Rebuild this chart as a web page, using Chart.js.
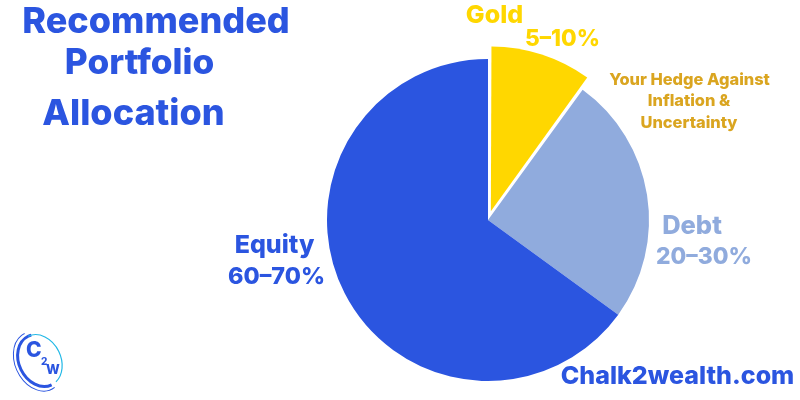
<!DOCTYPE html>
<html>
<head>
<meta charset="utf-8">
<script src="https://cdn.jsdelivr.net/npm/chart.js@4"></script>
<style>
  html, body { margin: 0; padding: 0; background: #fff; }
  #wrap { width: 800px; height: 400px; position: relative; }
</style>
</head>
<body>
<div id="wrap"><canvas id="chart" width="800" height="400"></canvas></div>
<script>
const categories = ["Gold", "Debt", "Equity"];
const allocation = [10, 25, 65];
const sliceColors = ["#FFD700", "#90ABDD", "#2B55E0"];
const sliceOffsets = [37, 0, 0];
const titleLines = ["Recommended", "Portfolio", "Allocation"];
const goldLabel = ["Gold", "5–10%"];
const debtLabel = ["Debt", "20–30%"];
const equityLabel = ["Equity", "60–70%"];
const hedgeLines = ["Your Hedge Against", "Inflation &", "Uncertainty"];
const siteName = "Chalk2wealth.com";

const BLUE = "#2B55E0";
const FONT = 'Inter, sans-serif';

function drawText(ctx, text, x, y, size, color, weight) {
  ctx.font = `${weight || 700} ${size}px ${FONT}`;
  ctx.fillStyle = color;
  ctx.fillText(text, x, y);
}

function drawLogo(ctx) {
  ctx.save();
  ctx.translate(39, 361);
  ctx.rotate(-0.45);
  ctx.strokeStyle = BLUE;
  ctx.lineWidth = 1;
  ctx.beginPath();
  ctx.ellipse(-1, 0, 23, 31, 0, Math.PI * 0.45, Math.PI * 1.5);
  ctx.stroke();
  ctx.lineWidth = 3;
  ctx.beginPath();
  ctx.ellipse(1, 0, 21, 27, 0, Math.PI * 0.5, Math.PI * 1.55);
  ctx.stroke();
  ctx.lineWidth = 1.2;
  ctx.strokeStyle = "#22B8E6";
  ctx.beginPath();
  ctx.ellipse(1, 0, 21, 27, 0, -Math.PI * 0.5, Math.PI * 0.42);
  ctx.stroke();
  ctx.restore();
  ctx.textAlign = "left";
  drawText(ctx, "C", 26, 357, 21, BLUE, 800);
  drawText(ctx, "2", 41, 365, 10, BLUE, 800);
  drawText(ctx, "W", 46, 374, 13, BLUE, 800);
}

const textPlugin = {
  id: "textPlugin",
  afterDraw(chart) {
    const ctx = chart.ctx;
    ctx.save();
    ctx.textBaseline = "alphabetic";
    ctx.textAlign = "center";
    drawText(ctx, titleLines[0], 156, 33, 36, BLUE, 800);
    drawText(ctx, titleLines[1], 139.5, 74, 35.2, BLUE, 800);
    drawText(ctx, titleLines[2], 133.5, 125, 36, BLUE, 800);
    drawText(ctx, goldLabel[0], 494.5, 23, 25, "#FFD700", 800);
    drawText(ctx, goldLabel[1], 562.5, 46, 22.6, "#FFD700", 800);
    drawText(ctx, hedgeLines[0], 689.5, 85, 16.4, "#DAA520", 800);
    drawText(ctx, hedgeLines[1], 689, 106, 16.4, "#DAA520", 800);
    drawText(ctx, hedgeLines[2], 689, 128, 16.4, "#DAA520", 800);
    drawText(ctx, debtLabel[0], 692, 234, 25.5, "#90ABDD", 800);
    drawText(ctx, debtLabel[1], 704, 264, 22.8, "#90ABDD", 800);
    drawText(ctx, equityLabel[0], 274.5, 253, 25, BLUE, 800);
    drawText(ctx, equityLabel[1], 276.5, 284, 23.4, BLUE, 800);
    drawText(ctx, siteName, 677.5, 384, 25, BLUE, 800);
    drawLogo(ctx);
    ctx.restore();
  }
};

new Chart(document.getElementById("chart"), {
  type: "pie",
  data: {
    labels: categories,
    datasets: [{
      data: allocation,
      backgroundColor: sliceColors,
      offset: sliceOffsets,
      borderWidth: 0
    }]
  },
  options: {
    responsive: false,
    animation: false,
    radius: 161,
    layout: { padding: { left: 176, right: 0, top: 40, bottom: 0 } },
    plugins: {
      legend: { display: false },
      tooltip: { enabled: false }
    }
  },
  plugins: [textPlugin]
});
</script>
</body>
</html>
